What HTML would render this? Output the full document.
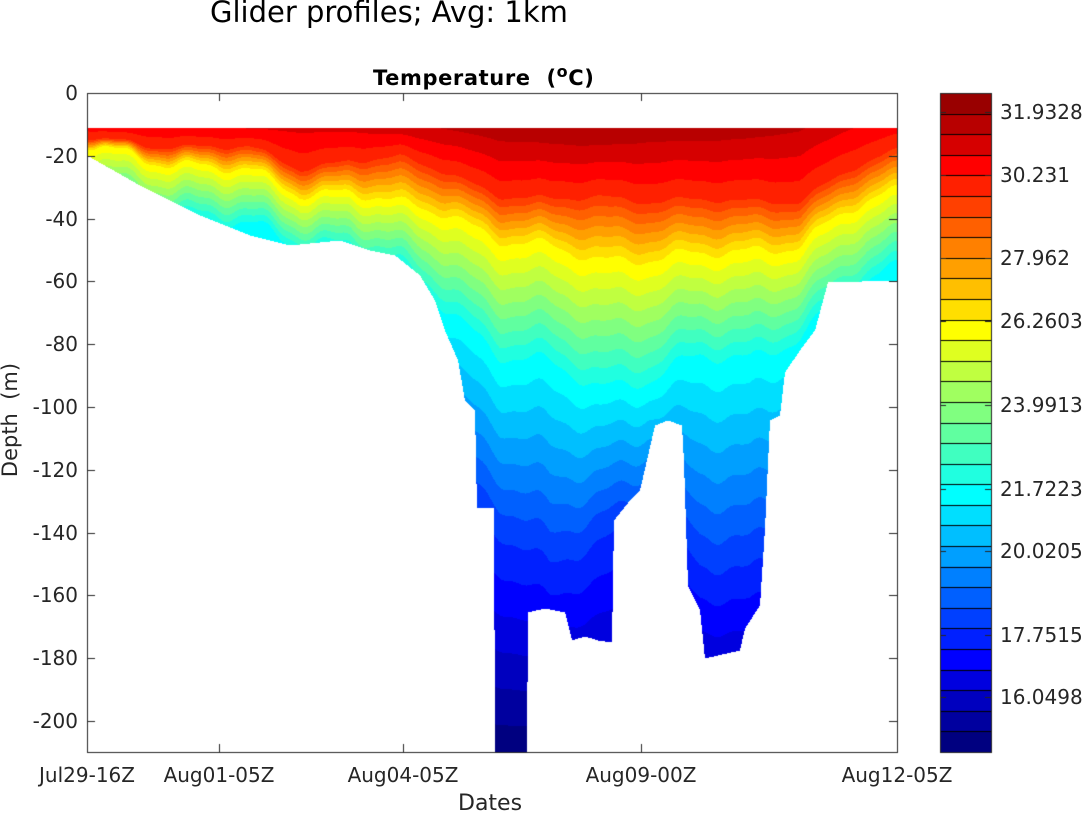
<!DOCTYPE html>
<html><head><meta charset="utf-8"><style>
body{margin:0;background:#fff;width:1085px;height:814px;overflow:hidden;position:relative;font-family:"DejaVu Sans","Liberation Sans",sans-serif;color:#262626}
canvas{position:absolute;left:0;top:0}
.t{position:absolute;font-size:20px;line-height:24px;white-space:nowrap}
</style></head><body>
<canvas id="c" width="1085" height="814"></canvas>
<div class="t" style="left:210px;top:-5px;font-size:29px;line-height:34px;color:#000">Glider profiles; Avg: 1km</div>
<div class="t" style="left:373px;top:60px;font-weight:bold;color:#000;font-size:21px;letter-spacing:0.6px">Temperature&nbsp;&nbsp;(<sup style="font-size:16px">o</sup>C)</div>
<div class="t" style="left:458px;top:792px;font-size:22px">Dates</div>
<div class="t" style="left:-50px;top:408px;transform:rotate(-90deg);width:120px;text-align:center;font-size:21px">Depth&nbsp;&nbsp;(m)</div>
<div id="lab"></div>
<script>
const c=document.getElementById('c').getContext('2d');
const jet=['#990000','#b80000','#d60000','#ff0000','#ff2000','#ff4000','#ff6000','#ff8000','#ff9f00','#ffbf00','#ffdf00','#ffff00','#dfff20','#c0ff40','#a0ff60','#80ff80','#60ffa0','#40ffc0','#20ffe0','#00ffff','#00dfff','#00bfff','#009fff','#0080ff','#0060ff','#0040ff','#0020ff','#0000ff','#0000df','#0000bf','#00009f','#000080'];
const Tmax=32.45,bw=0.5625;
function interp(pts,x){if(x<=pts[0][0])return pts[0][1];for(let i=1;i<pts.length;i++){if(x<=pts[i][0]){const a=pts[i-1],b=pts[i];if(b[0]==a[0])return b[1];return a[1]+(b[1]-a[1])*(x-a[0])/(b[0]-a[0]);}}return pts[pts.length-1][1];}
const bottom=[[87,155],[140,185],[200,215],[250,235],[290,245],[340,240],[370,250],[395,255],[420,275],[435,300],[445,330],[458,360],[465,400],[475,410],[477,508],[494,508],[495,752],[527,752],[528,612],[545,608],[565,612],[572,640],[585,636],[598,640],[612,642],[614,520],[630,500],[640,490],[655,425],[668,420],[682,425],[684,462],[688,585],[700,610],[705,658],[740,650],[745,628],[760,605],[765,528],[770,420],[780,415],[785,372],[800,350],[815,330],[828,282],[897,280]];
const A={87:[30.4,138,146,200,400],150:[30.6,145,158,212,420],250:[30.8,148,172,228,430],300:[30.9,168,192,245,440],350:[30.9,160,190,250,440],400:[31.1,158,205,275,460],450:[31.4,172,212,310,480],500:[31.7,195,238,355,520],550:[31.8,200,248,368,560],600:[31.9,195,258,388,530],650:[31.7,200,256,378,500],700:[31.7,200,255,360,560],750:[31.6,200,250,360,560],800:[31.4,200,242,335,520],850:[30.8,170,210,295,480],897:[30.4,150,190,268,460]};
const keys=Object.keys(A).map(Number);
function anch(x,k){return interp(keys.map(kk=>[kk,A[kk][k]]),x);}
for(let x=87;x<897;x++){
 const xb=x+0.5,yb=interp(bottom,xb);
 const n=5*Math.sin(x*0.09)+3*Math.sin(x*0.041+1)+1.5*Math.sin(x*0.23);
 const ts=anch(xb,0),yR=anch(xb,1)+n*0.5,yY=anch(xb,2)+n,yC=anch(xb,3)+n*1.3,yB=anch(xb,4)+n*1.5;
 const P=[[128,ts],[yR,29.7],[yY,26.3],[yC,21.7],[yB,18],[752,14.6]];
 for(let y=128;y<Math.min(yb,752);y++){
  const T=interp(P,y+0.5);let i=Math.floor((Tmax-T)/bw);i=Math.max(0,Math.min(31,i));
  c.fillStyle=jet[i];c.fillRect(x,y,1,1);}
}
c.strokeStyle='#262626';c.lineWidth=1;c.strokeRect(87.5,93.5,810,659);
c.beginPath();
for(let v=0;v<=200;v+=20){const y=Math.round(93+v*3.14)+0.5;c.moveTo(87,y);c.lineTo(95,y);c.moveTo(897,y);c.lineTo(889,y);}
[87,219,403,641,897].forEach(x=>{x+=0.5;c.moveTo(x,752);c.lineTo(x,744);c.moveTo(x,93);c.lineTo(x,101);});
c.stroke();
for(let i=0;i<32;i++){const y0=93+i*659/32;c.fillStyle=jet[i];c.fillRect(940,y0,51,659/32+1);c.strokeStyle='#000';c.beginPath();c.moveTo(940,Math.round(y0)+0.5);c.lineTo(991,Math.round(y0)+0.5);c.stroke();}
c.strokeStyle='#262626';c.strokeRect(940.5,93.5,51,659);
let h='';
for(let v=0;v<=200;v+=20){const y=93+v*3.14;h+=`<div class="t" style="left:0;width:78px;text-align:right;top:${y-12}px">${v?'-'+v:0}</div>`;}
[[87,'Jul29-16Z'],[219,'Aug01-05Z'],[403,'Aug04-05Z'],[641,'Aug09-00Z'],[897,'Aug12-05Z']].forEach(([x,t])=>{h+=`<div class="t" style="left:${x-70}px;width:140px;text-align:center;top:763px">${t}</div>`;});
[[112,'31.9328'],[175,'30.231'],[258,'27.962'],[321,'26.2603'],[405,'23.9913'],[489,'21.7223'],[551,'20.0205'],[635,'17.7515'],[697,'16.0498']].forEach(([y,t])=>{h+=`<div class="t" style="left:1000px;top:${y-12}px">${t}</div>`;c.beginPath();c.moveTo(940,y+0.5);c.lineTo(946,y+0.5);c.moveTo(991,y+0.5);c.lineTo(985,y+0.5);c.stroke();});
document.getElementById('lab').innerHTML=h;
</script></body></html>
